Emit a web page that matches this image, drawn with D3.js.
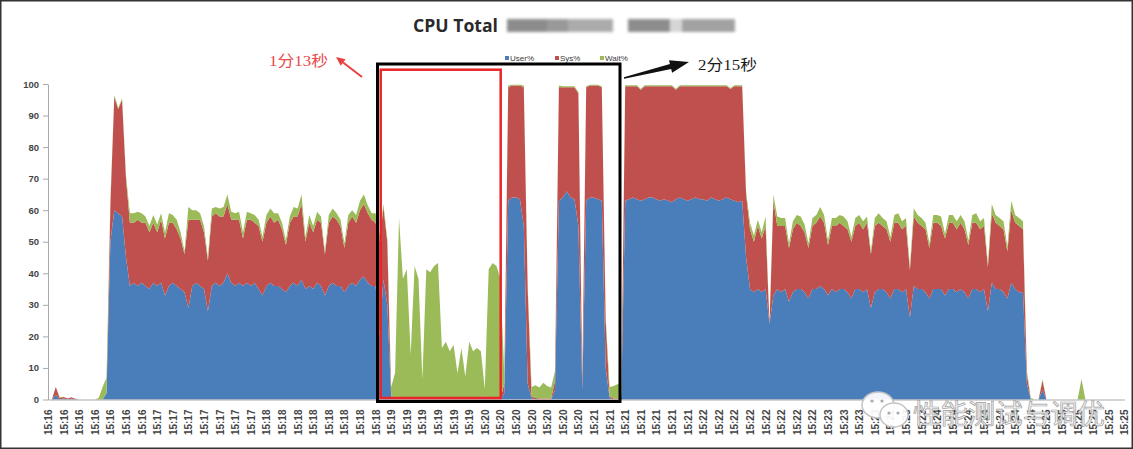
<!DOCTYPE html>
<html><head><meta charset="utf-8">
<script src="https://cdn.jsdelivr.net/npm/d3@7"></script>
<style>body{margin:0;background:#fff;} svg{display:block}</style>
</head><body>
<svg id="c" width="1133" height="449"></svg>
<script>
// ---------------- data ----------------
const timeLabels = [
"15:16","15:16","15:16","15:16","15:16","15:16","15:16",
"15:17","15:17","15:17","15:17","15:17","15:17","15:17",
"15:18","15:18","15:18","15:18","15:18","15:18","15:18","15:18",
"15:19","15:19","15:19","15:19","15:19","15:19",
"15:20","15:20","15:20","15:20","15:20","15:20","15:20",
"15:21","15:21","15:21","15:21","15:21","15:21","15:21",
"15:22","15:22","15:22","15:22","15:22","15:22","15:22","15:22",
"15:23","15:23","15:23","15:23","15:23","15:23","15:23",
"15:24","15:24","15:24","15:24","15:24","15:24","15:24",
"15:25","15:25","15:25","15:25","15:25","15:25"];
const samplesPerLabel = 4;

const userPct = [
0,0,1.5,0,0.3,0,0.3,0,0,0,
0,0,0,0,0,2,50,60,59,58,
45,36,37,36,37,36,35,37,36,37,
33,36,37,36,35,34,29,36,37,36,
35,28,36,37,36,37,40,37,36,37,
36,37,36,37,35,33,36,37,36,36,
35,34,36,37,36,38,35,36,35,37,
36,33,36,37,36,36,34,36,37,36,
38,39,37,36,36,20,38,30,0.5,0,
0,0,0,0,0,0,0,0,0,0,
0,0,0,0,0,0,0,0,0,0,
0,0,1,0,0,0,0,2,63,64,
64,63.5,55,5,0.5,0,0,0,0,0,
3,63,64,66,64,63.5,55,3,63,64,
64,63.5,63,10,0.5,0,0,1,63,63.5,
64,63.5,63,63.5,64,64,63.5,63,63.5,63,
62.5,63.5,64,63.5,63,63.5,64,63.5,63.5,63,
64,63.5,63,63.5,64,63.5,63,62.5,63,45,
35,34,35,34,35,24,33,35,34,35,
31,34,35,35,34,32,35,35,36,35,
33,35,34,35,35,34,32,35,35,34,
35,29,34,35,35,34,32,35,35,34,
35,26,36,35,35,34,32,35,35,35,
33,35,35,34,35,34,32,35,35,34,
35,28,37,35,35,34,32,37,35,34,
34,5,0,0,0,3,0,0,0,0,
0,0,0,0,0,0,0,0,0,0,
0,0,0,0,0,0,0];

const sysPct = [
0,0,2.5,0.5,0.5,0.3,0.4,0.2,0,0,
0,0,0,0,0,0,12,36,33,37,
25,20,19,21,19,20,18,19,17,20,
18,20,19,18,16,12,28,21,20,21,
18,16,22,22,22,21,22,20,21,20,
15,20,21,19,20,17,20,21,20,21,
19,15,20,21,22,24,15,20,18,20,
20,13,20,21,21,19,14,20,21,20,
22,23,22,21,20,30,23,20,0.5,0.5,
0.5,0.3,0.3,0.3,0.3,0.3,0.3,0.3,0.3,0.3,
0.3,0.3,0.3,0.3,0.3,0.3,0.3,0.3,0.3,0.3,
0.3,0.3,0.3,0.3,0.3,0.3,0.3,3,36,35.5,
35.5,36,44,30,0.5,0.5,0.3,0.3,0.3,0.3,
3,36,35,33,35,35.5,42,3,36,35.5,
35.5,36,36,15,0.5,0.3,0.3,0.5,36.3,35.8,
35.3,35.8,35.2,35.8,35.3,35.3,35.8,36.3,35.8,36.3,
36.8,34.7,35.3,35.8,36.3,35.8,35.3,35.8,35.8,36.3,
35.3,35.8,36.3,35.8,35.3,34.9,36.3,36.8,36.3,20,
19,16,20,17,20,0,30,20,21,20,
17,20,21,20,19,16,20,21,22,21,
16,20,21,21,20,20,18,20,21,20,
21,17,21,21,20,20,18,21,21,20,
20,15,22,21,20,20,16,21,21,20,
18,21,21,20,21,20,17,21,21,20,
20,14,22,21,20,20,15,23,21,21,
20,3,0,0,0,3,0,0,0,0,
0,0,0,0,0,0,0,0,0,0,
0,0,0,0,0,0,0];

const waitPct = [
0,0,0,0.3,0,0,0,0,0,0,
0,0,0,0.5,4,5,1,0.5,0.5,0.5,
1,3,3,2.5,3,2,2,2.5,2.5,2,
2,3,2.5,3,2,1,4,3,3,2,
2,1,2.5,2,2.5,3,3,2.5,2,2.5,
2,2.5,2,2.5,2,1.5,2.5,2.5,3,2,
2,1.5,2,3,2.5,3,1.5,2.5,2,2.5,
2,1,2.5,2.5,2,2,1.5,2.5,2,2.5,
3,3,2.5,2,3,2,1,1,3,8,
57,38,41,14,42,38,6,41,40,42,
43,16,18,15,17,8,16,7,18,15,
16,15,2,41,43,42,38,3,0.5,0.3,
0.3,0.3,0.5,1,3,4,3.5,5,4,3.5,
3,0.5,0.3,0.3,0.3,0.3,0.5,2,0.3,0.3,
0.3,0.3,0.3,1,3,4,4.5,4,0.3,0.3,
0.3,0.3,0.3,0.3,0.3,0.3,0.3,0.3,0.3,0.3,
0.3,0.3,0.3,0.3,0.3,0.3,0.3,0.3,0.3,0.3,
0.3,0.3,0.3,0.3,0.3,0.3,0.3,0.3,0.3,1,
2,2,2,2,3,0,2,3,2.5,2.5,
1.5,2.5,2.5,3,2.5,1.5,2.5,2.5,3,2.5,
1.5,2.5,2.5,2.5,3,2.5,1.5,2.5,2.5,2.5,
2,1,2.5,3,2.5,2.5,1.5,2.5,3,2.5,
2.5,1,2.5,2.5,2.5,2,1.5,2.5,2.5,3,
1.5,2.5,2.5,2.5,2.5,2.5,1.5,2.5,3,2.5,
2.5,1,3,2.5,2.5,2.5,1.5,3,2.5,2.5,
2.5,1,0.5,0,0,0.5,0,0,0,0,
0,0,0,0,0,6.5,0,0,0,0,
0,0,0,0,0,0,0];

const seriesKeys = ["user","sys","wait"];
const seriesNames = ["User%","Sys%","Wait%"];
const seriesColors = ["#4a7ebb","#c0504d","#9bbb59"];
const yTicks = [0,10,20,30,40,50,60,70,80,90,100];
const titleText = "CPU Total";
const noteRed = "1分13秒";
const noteBlack = "2分15秒";
const watermark = "性能测试与调优";

// ---------------- drawing ----------------
const svg = d3.select("#c");
const defs = svg.append("defs");
defs.append("filter").attr("id","blur").attr("x","-20%").attr("y","-40%").attr("width","140%").attr("height","180%")
  .append("feGaussianBlur").attr("stdDeviation",1.4);

const rows = userPct.map((u,i)=>({i, user:u, sys:sysPct[i], wait:waitPct[i]}));
const lastIdx = (timeLabels.length-1)*samplesPerLabel;
const x = d3.scaleLinear().domain([0,lastIdx]).range([48,1124.4]);
const y = d3.scaleLinear().domain([0,100]).range([399.5,84]);

const stack = d3.stack().keys(seriesKeys);
const layers = stack(rows);
const area = d3.area().x(d=>x(d.data.i)).y0(d=>y(d[0])).y1(d=>y(d[1]));

svg.append("g").selectAll("path").data(layers).join("path")
  .attr("d",area).attr("fill",(d,k)=>seriesColors[k]);

// y axis
const yAxis = svg.append("g").attr("transform","translate(48,0)")
  .call(d3.axisLeft(y).tickValues(yTicks).tickSize(5).tickSizeOuter(0).tickPadding(4));
yAxis.selectAll("path,line").attr("stroke","#a9a9a9");
yAxis.selectAll("text").attr("font-family","Liberation Sans, Arial, sans-serif")
  .attr("font-size","9.5px").attr("font-weight","bold").attr("fill","#444");

// x axis
const xAxis = svg.append("g").attr("transform","translate(0,399.5)")
  .call(d3.axisBottom(x).tickValues(d3.range(0,lastIdx+1,samplesPerLabel))
    .tickFormat(d=>timeLabels[d/samplesPerLabel]).tickSize(0).tickSizeOuter(0));
xAxis.select("path").attr("stroke","#a9a9a9");
xAxis.selectAll("text").attr("transform","rotate(-90)").attr("x",-10).attr("y",0).attr("dy","0.35em")
  .style("text-anchor","end")
  .attr("font-family","Liberation Sans, Arial, sans-serif")
  .attr("font-size","10px").attr("font-weight","bold").attr("fill","#444");

// title
svg.append("text").attr("x",413).attr("y",32).text(titleText)
  .attr("font-family","Open Sans, sans-serif").attr("font-weight","bold").attr("font-size","18px")
  .attr("fill","#2a2a2a").attr("textLength",85).attr("lengthAdjust","spacingAndGlyphs");
// redacted blur blocks
const blur = svg.append("g").attr("filter","url(#blur)");
[[507,547,"#8c8c8c"],[547,568,"#999"],[568,613,"#ababab"],[628,670,"#8d8d8d"],[670,682,"#d6d6d6"],[682,735,"#a2a2a2"]]
  .forEach(b=>blur.append("rect").attr("x",b[0]).attr("y",19).attr("width",b[1]-b[0]).attr("height",13).attr("fill",b[2]));

// legend
const leg = svg.append("g");
const legX = [505,555,600];
seriesNames.forEach((n,k)=>{
  leg.append("rect").attr("x",legX[k]).attr("y",56).attr("width",4).attr("height",4).attr("fill",seriesColors[k]);
  leg.append("text").attr("x",legX[k]+5).attr("y",61).text(n)
    .attr("font-family","Liberation Sans, Arial, sans-serif").attr("font-size","8px").attr("fill","#3a3a3a");
});

// annotation boxes
svg.append("rect").attr("x",377.5).attr("y",64).attr("width",242.5).attr("height",337.5)
  .attr("fill","none").attr("stroke","#000").attr("stroke-width",3);
svg.append("rect").attr("x",380.7).attr("y",69.7).attr("width",120).attr("height",328.3)
  .attr("fill","none").attr("stroke","#e8262a").attr("stroke-width",2.5);

// red arrow
(function(){
  const T=[362,77], P=[336,57];
  const dx=P[0]-T[0], dy=P[1]-T[1], L=Math.hypot(dx,dy), ux=dx/L, uy=dy/L, nx=-uy, ny=ux;
  const B=[P[0]-9*ux, P[1]-9*uy];
  svg.append("line").attr("x1",T[0]).attr("y1",T[1]).attr("x2",B[0]).attr("y2",B[1])
    .attr("stroke","#e8423f").attr("stroke-width",2);
  svg.append("polygon").attr("points",[P,[B[0]+4*nx,B[1]+4*ny],[B[0]-4*nx,B[1]-4*ny]].map(p=>p.join(",")).join(" "))
    .attr("fill","#e8423f");
})();
// black arrow
(function(){
  const T=[624,78], P=[689,62];
  const dx=P[0]-T[0], dy=P[1]-T[1], L=Math.hypot(dx,dy), ux=dx/L, uy=dy/L, nx=-uy, ny=ux;
  const B=[P[0]-19*ux, P[1]-19*uy];
  const pts=[[T[0]+0.7*nx,T[1]+0.7*ny],[B[0]+2.6*nx,B[1]+2.6*ny],[B[0]+6.5*nx,B[1]+6.5*ny],P,
             [B[0]-6.5*nx,B[1]-6.5*ny],[B[0]-2.6*nx,B[1]-2.6*ny],[T[0]-0.7*nx,T[1]-0.7*ny]];
  svg.append("polygon").attr("points",pts.map(p=>p.join(",")).join(" ")).attr("fill","#111");
})();
svg.append("text").attr("x",269).attr("y",66).text(noteRed)
  .attr("font-family","Liberation Serif, Noto Sans CJK SC, serif").attr("font-size","15px")
  .attr("fill","#e8494a").attr("textLength",59).attr("lengthAdjust","spacingAndGlyphs");
svg.append("text").attr("x",698).attr("y",70).text(noteBlack)
  .attr("font-family","Liberation Serif, Noto Sans CJK SC, serif").attr("font-size","15px")
  .attr("fill","#1a1a1a").attr("textLength",59).attr("lengthAdjust","spacingAndGlyphs");

// watermark
const wm = svg.append("g");
wm.append("ellipse").attr("cx",878).attr("cy",405).attr("rx",16).attr("ry",13)
  .attr("fill","#fff").attr("fill-opacity",0.92).attr("stroke","#c2c2c2").attr("stroke-width",1.5);
wm.append("ellipse").attr("cx",894).attr("cy",415).attr("rx",14).attr("ry",12)
  .attr("fill","#fff").attr("fill-opacity",0.92).attr("stroke","#c2c2c2").attr("stroke-width",1.5);
[[872,401],[882,401],[889,413],[898,413]].forEach(p=>wm.append("circle").attr("cx",p[0]).attr("cy",p[1]).attr("r",1.6).attr("fill","#aaa"));
wm.append("text").attr("x",913).attr("y",424).text(watermark)
  .attr("font-family","Noto Sans CJK SC, sans-serif").attr("font-size","27px")
  .attr("fill","#f4f4f4").attr("fill-opacity",0.88).attr("stroke","#a0a0a0").attr("stroke-width",0.7)
  .attr("textLength",192).attr("lengthAdjust","spacingAndGlyphs");

// outer frame
svg.append("rect").attr("x",0.75).attr("y",0.75).attr("width",1131.5).attr("height",447.5)
  .attr("fill","none").attr("stroke","#333").attr("stroke-width",1.5);
</script>
</body></html>
